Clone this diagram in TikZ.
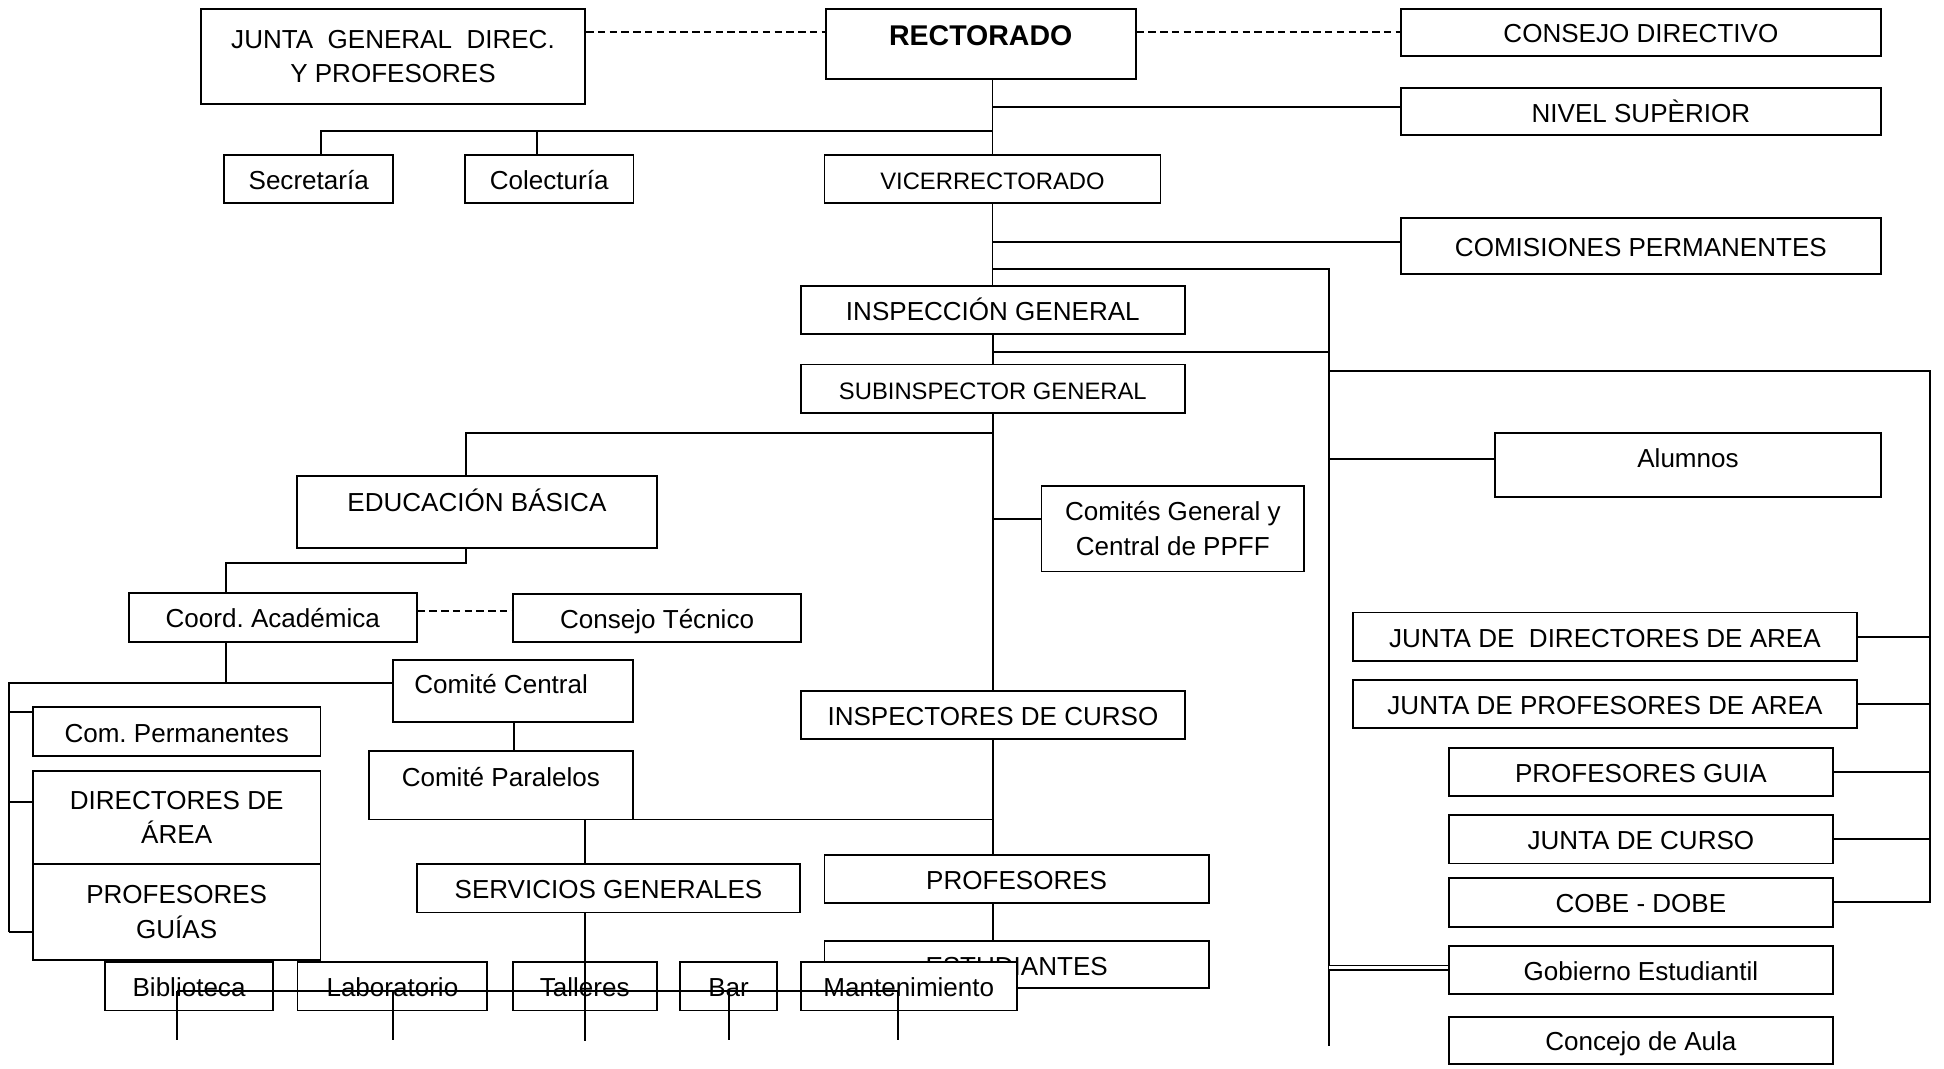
\documentclass[tikz,border=0pt]{standalone}
\usepackage{fontspec}
\setmainfont{Liberation Sans}
\usepackage{tikz}
\frenchspacing

\tikzset{
  caja/.style={draw, fill=white, line width=1.5pt, inner sep=0pt, text height=17pt, text depth=0pt},
  caja2/.style={draw, fill=white, line width=1.5pt, inner sep=0pt, align=center},
  chica/.style={font=\fontsize{19.2}{26}\selectfont},
  guion/.style={dash pattern=on 6pt off 3.5pt},
}

\begin{document}
\begin{tikzpicture}[x=1pt, y=-1pt, line width=1.5pt, font=\fontsize{21}{28}\selectfont]
\useasboundingbox (0,0) rectangle (1568,862);  % 按像素坐标, y 向下

% 上部
\node[caja2, minimum width=310pt, minimum height=77pt] (jgd) at (317,45.5) {JUNTA~ GENERAL~ DIREC.\\Y PROFESORES};
\node[caja, minimum width=250pt, minimum height=57pt, text depth=14.6pt, font=\fontsize{23}{28}\selectfont\bfseries] (rect) at (791,35.5) {RECTORADO};
\node[caja, minimum width=387pt, minimum height=38pt] (cdir) at (1323.5,26) {CONSEJO DIRECTIVO};
\node[caja, minimum width=387pt, minimum height=38pt] (nsup) at (1323.5,90) {NIVEL SUPÈRIOR};
\node[caja, minimum width=136pt, minimum height=39pt] (secr) at (249,144.5) {Secretaría};
\node[caja, minimum width=136pt, minimum height=39pt] (cole) at (443,144.5) {Colecturía};
\node[caja, chica, minimum width=271pt, minimum height=39pt] (vice) at (800.5,144.5) {VICERRECTORADO};
\node[caja, minimum width=387pt, minimum height=45pt] (cper) at (1323.5,198.3) {COMISIONES PERMANENTES};
\node[caja, minimum width=310pt, minimum height=38.5pt] (insg) at (800.8,249.8) {INSPECCIÓN GENERAL};
\node[caja, chica, minimum width=310pt, minimum height=39pt] (subg) at (800.8,313.5) {SUBINSPECTOR GENERAL};

% 中部
\node[caja, minimum width=290.5pt, minimum height=58pt, text depth=17.6pt] (edub) at (384.7,413) {EDUCACIÓN BÁSICA};
\node[caja2, minimum width=212pt, minimum height=69pt] (cgen) at (946,426.5) {Comités General y\\Central de PPFF};
\node[caja, minimum width=311pt, minimum height=52pt, text depth=12.6pt] (alum) at (1361.5,375) {Alumnos};
\node[caja, minimum width=232pt, minimum height=39pt] (coor) at (220,498) {Coord. Académica};
\node[caja, minimum width=232.5pt, minimum height=39pt] (ctec) at (530,498.5) {Consejo Técnico};
\node[caja, minimum width=194pt, minimum height=50pt, text depth=11.6pt] (ccen) at (413.7,557) {Comité Central\hspace*{19pt}};
\node[caja, minimum width=232pt, minimum height=40pt] (cpe2) at (142.5,590) {Com. Permanentes};
\node[caja2, minimum width=232pt, minimum height=75.4pt] (dira) at (142.5,659.3) {DIRECTORES DE\\ÁREA};
\node[caja2, minimum width=232pt, minimum height=77pt] (pgui) at (142.5,735.5) {PROFESORES\\GUÍAS};
\node[caja, minimum width=213.4pt, minimum height=55pt, text depth=15.6pt] (cpar) at (404,633.5) {Comité Paralelos};
\node[caja, minimum width=310pt, minimum height=39pt] (icur) at (800.9,576.5) {INSPECTORES DE CURSO};
\node[caja, minimum width=309.6pt, minimum height=39pt] (sgen) at (490.8,716.5) {SERVICIOS GENERALES};
\node[caja, minimum width=310pt, minimum height=38.5pt] (prof) at (820,708.8) {PROFESORES};
\node[caja, minimum width=310pt, minimum height=38pt] (estu) at (820,778) {ESTUDIANTES};

% 下面一排, 盖住 ESTUDIANTES
\node[caja, minimum width=135pt, minimum height=39pt] (bibl) at (152.5,795.5) {Biblioteca};
\node[caja, minimum width=153pt, minimum height=39pt] (labo) at (316.5,795.5) {Laboratorio};
\node[caja, minimum width=116pt, minimum height=39pt] (tall) at (471.6,795.5) {Talleres};
\node[caja, minimum width=77.6pt, minimum height=39pt] (bar) at (587.6,795.5) {Bar};
\node[caja, minimum width=174pt, minimum height=39pt] (mant) at (733,795.5) {Mantenimiento};

% 右边
\node[caja, minimum width=407pt, minimum height=39pt] (jdir) at (1294.5,513.5) {JUNTA DE~ DIRECTORES DE AREA};
\node[caja, minimum width=407pt, minimum height=39pt] (jpro) at (1294.5,568) {JUNTA DE PROFESORES DE AREA};
\node[caja, minimum width=310pt, minimum height=39pt] (pgu2) at (1323.5,622.5) {PROFESORES GUIA};
\node[caja, minimum width=310pt, minimum height=39pt] (jcur) at (1323.5,677) {JUNTA DE CURSO};
\node[caja, minimum width=310pt, minimum height=39.5pt] (cobe) at (1323.5,727.8) {COBE - DOBE};
\node[caja, minimum width=310pt, minimum height=39pt] (gobi) at (1323.5,782.5) {Gobierno Estudiantil};
\node[caja, minimum width=310pt, minimum height=38pt] (caul) at (1323.5,839) {Concejo de Aula};

% 虚线
\draw[guion] ([yshift=19.5pt]jgd.east) -- ([yshift=9.5pt]rect.west);
\draw[guion] ([yshift=9.5pt]rect.east) -- (cdir.west);
\draw[guion] ([yshift=5pt]coor.east) -- ([yshift=5pt]coor.east -| ctec.west);

% 主干
\draw (vice.north |- rect.south) -- (vice.north);
\draw (vice.south) -- (vice.south |- insg.north);
\draw (insg.south) -- (insg.south |- subg.north);
\draw (subg.south) -- (subg.south |- icur.north);
\draw (icur.south) -- (icur.south |- prof.north);
\draw (icur.south |- prof.south) -- (icur.south |- estu.north);

\draw ([yshift=3.5pt]nsup.west) -- ([yshift=3.5pt]nsup.west -| vice.north);
\coordinate (rama) at (800.5,105.6);
\draw (rama) -| ([xshift=10pt]secr.north);
\draw ([xshift=-10pt]cole.north) -- ([xshift=-10pt]cole.north |- rama);
\draw ([yshift=3.3pt]cper.west) -- ([yshift=3.3pt]cper.west -| vice.south);

% 右边的竖线
\coordinate (v1) at (1072,217);
\coordinate (v2) at (1072,844);
\draw (v1 -| vice.south) -- (v1) -- (v2);
\coordinate (h1) at (1072,284);
\draw (h1 -| insg.south) -- (h1);
\coordinate (d1) at (1072,299.5);
\coordinate (d2) at (1557,299.5);
\coordinate (d3) at (1557,728);
\draw (d1) -- (d2) -- (d3);
\foreach \n in {jdir,jpro,pgu2,jcur,cobe}
  \draw (\n.east) -- (\n.east -| d2);
\draw ([yshift=5pt]alum.west) -- ([yshift=5pt]alum.west -| v1);
\draw[line width=1.2pt, double, double distance=2.4pt] ([yshift=2pt]gobi.west) -- ([yshift=2pt]gobi.west -| v1);

% 左边
\coordinate (e1) at (376,349);
\draw (e1 -| subg.south) -- (e1) -- (e1 |- edub.north);
\draw ([yshift=7.9pt]cgen.west) -- ([yshift=7.9pt]cgen.west -| subg.south);
\coordinate (c1) at (182,454);
\draw (e1 |- edub.south) |- (c1) -- (c1 |- coor.north);
\coordinate (c2) at (182,551);
\coordinate (l1) at (7,551);
\coordinate (l2) at (7,752);
\draw (c1 |- coor.south) -- (c2);
\draw (l2) -- (l1) -- (l1 -| ccen.west);
\draw ([yshift=16pt]cpe2.west) -- ([yshift=16pt]cpe2.west -| l1);
\draw ([yshift=12.3pt]dira.west) -- ([yshift=12.3pt]dira.west -| l1);
\draw ([yshift=-16.5pt]pgui.west) -- ([yshift=-16.5pt]pgui.west -| l1);
\draw ([xshift=1pt]ccen.south) -- ([xshift=1pt]ccen.south |- cpar.north);
\coordinate (p1) at (472,661);
\draw (p1 -| icur.south) -- (p1) -- (p1 |- sgen.north);

% 最下面, 线穿过字 (原图就是这样)
\draw (tall.north |- sgen.south) -- ++(0,103);
\coordinate (f1) at (143,799.5);
\coordinate (f2) at (724,799.5);
\draw (f1) -- (f2);
\foreach \x in {143,317,588,724}
  \draw (\x,799.5) -- ++(0,39.5);
\end{tikzpicture}
\end{document}
